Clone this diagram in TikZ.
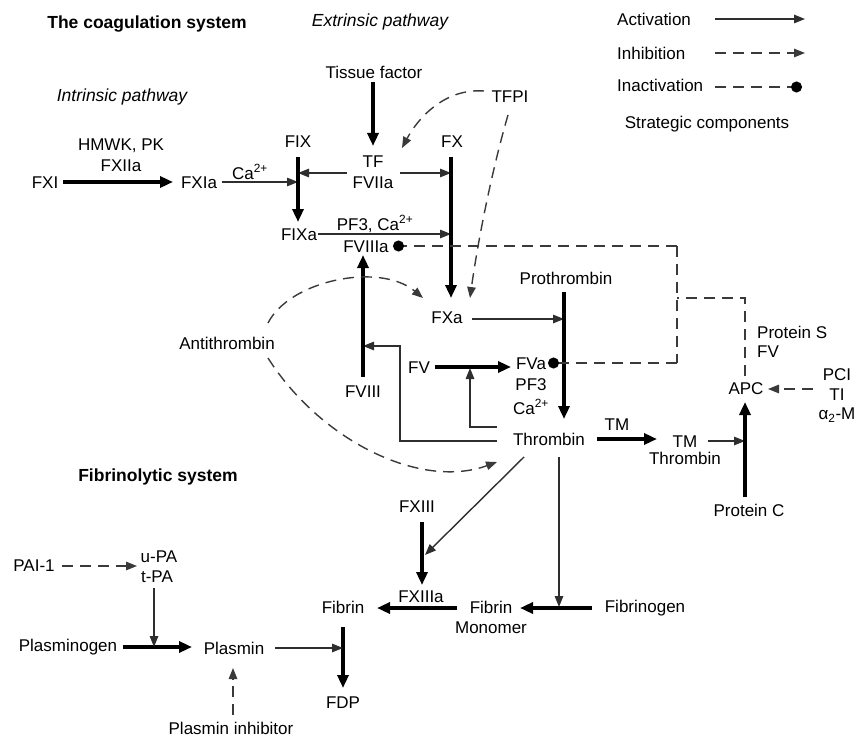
\documentclass[tikz,border=0pt]{standalone}
\usepackage{fontspec}
\setmainfont{Liberation Sans}
\usetikzlibrary{arrows.meta}
\definecolor{ln}{HTML}{2E2E2E}
\definecolor{dl}{HTML}{3A3A3A}
\begin{document}
\begin{tikzpicture}[x=1pt,y=-1pt,
  every node/.style={inner sep=0pt, font=\fontsize{17}{20}\selectfont},
  hd/.style={font=\fontsize{17.5}{20}\selectfont\bfseries},
  it/.style={font=\fontsize{17.5}{20}\selectfont\itshape},
  act/.style={draw=ln, line width=1.4pt, -{Triangle[length=11pt,width=8.5pt]}},
  thk/.style={draw=black, line width=3.6pt, -{Triangle[length=13pt,width=11pt]}},
  dsh/.style={draw=dl, line width=1.4pt, dash pattern=on 11pt off 7pt},
  inh/.style={dsh, -{Triangle[length=11pt,width=8.5pt]}},
  inact/.style={dsh, -{Circle[length=11pt,color=black]}}]
\useasboundingbox (0,0) rectangle (858,738);

% ---------- headings ----------
\node[hd] (title) at (147,24) {The coagulation system};
\node[it] (extr) at (380,22) {Extrinsic pathway};
\node[it] (intr) at (122,97) {Intrinsic pathway};
\node[hd] (fibsys) at (158,477) {Fibrinolytic system};

% ---------- legend ----------
\node[anchor=west] (lact) at (617,19) {Activation};
\node[anchor=west] (linh) at (617,53) {Inhibition};
\node[anchor=west] (linact) at (617,85) {Inactivation};
\node (lstrat) at (707,124) {Strategic components};
\coordinate (la1) at (715,19);  \coordinate (la2) at (805,19);
\coordinate (lb1) at (715,53);  \coordinate (lb2) at (805,53);
\coordinate (lc1) at (715,87);  \coordinate (lc2) at (802,87);
\draw[act] (la1) -- (la2);
\draw[inh] (lb1) -- (lb2);
\draw[inact] (lc1) -- (lc2);

% ---------- text nodes ----------
\node (tissue) at (374,72) {Tissue factor};
\node (tfpi) at (510,97) {TFPI};
\node (hmwk) at (121,146) {HMWK, PK};
\node (fxiia) at (121,166) {FXIIa};
\node (fix) at (298,142) {FIX};
\node (fx) at (452,142) {FX};
\node (tf) at (373,162) {TF};
\node (fviia) at (373,183) {FVIIa};
\node (fxi) at (45,183) {FXI};
\node (fxia) at (199,183) {FXIa};
\node (ca1) at (250,172) {Ca\textsuperscript{2+}};
\node (fixa) at (299,235) {FIXa};
\node (pf3ca) at (375,224) {PF3, Ca\textsuperscript{2+}};
\node (fviiia) at (366,247) {FVIIIa};
\node (fxa) at (447,318) {FXa};
\node (prothr) at (566,278) {Prothrombin};
\node (antithr) at (227,343) {Antithrombin};
\node (fviii) at (363,392) {FVIII};
\node (fv) at (419,368) {FV};
\node (fva) at (531,364) {FVa};
\node (pf3) at (531,385) {PF3};
\node (ca2) at (531,407) {Ca\textsuperscript{2+}};
\node (thrombin) at (549,439) {Thrombin};
\node (tm) at (617,425) {TM};
\node (tm2) at (685,442) {TM};
\node (tmthr) at (685,458) {Thrombin};
\node (apc) at (746,389) {APC};
\node[anchor=west] (prots) at (757,332) {Protein S};
\node[anchor=west] (fvs) at (757,352) {FV};
\node (pci) at (837,375) {PCI};
\node (ti) at (837,395) {TI};
\node (a2m) at (837,415) {α\textsubscript{2}-M};
\node (protc) at (749,510) {Protein C};
\node (fxiii) at (417,507) {FXIII};
\node (fxiiia) at (421,597) {FXIIIa};
\node (fibrinogen) at (645,608) {Fibrinogen};
\node (fibm) at (491,607) {Fibrin};
\node (monomer) at (491,628) {Monomer};
\node (fibrin) at (343,607) {Fibrin};
\node (fdp) at (343,703) {FDP};
\node (plasmin) at (234,648) {Plasmin};
\node (plasminogen) at (68,647) {Plasminogen};
\node (upa) at (159,557) {u-PA};
\node (tpa) at (157,577) {t-PA};
\node (pai) at (34,566) {PAI-1};
\node (plinh) at (231,728) {Plasmin inhibitor};

% ---------- junction coordinates ----------
\coordinate (fxiend) at (63,182);   \coordinate (fxiaend) at (173,182);
\coordinate (fxiaout) at (222,182);
\coordinate (fixtop) at (298,157);  \coordinate (fixbot) at (298,222);
\coordinate (fxtop) at (451,157);   \coordinate (fxbot) at (451,298);
\coordinate (tfl) at (347,173);     \coordinate (tfr) at (400,173);
\coordinate (tisout) at (373,82);   \coordinate (tfin) at (373,146);
\coordinate (fixaout) at (318,234);
\coordinate (prtop) at (564,292);   \coordinate (prbot) at (564,419);
\coordinate (fxaout) at (472,319);
\coordinate (fvout) at (435,367);   \coordinate (fvin) at (511,367);
\coordinate (fvmid) at (470,368);
\coordinate (thr1) at (497,427);    \coordinate (thr2) at (497,441);
\coordinate (kk) at (400,346);      \coordinate (fviiijn) at (363,346);
\coordinate (fviiibot) at (363,377); \coordinate (fviiitop) at (363,255);
\coordinate (tmout) at (597,439);   \coordinate (tmin) at (657,439);
\coordinate (tmthrout) at (708,441); \coordinate (pcjn) at (745,441);
\coordinate (pcbot) at (745,497);   \coordinate (pctop) at (745,402);
\coordinate (pciout) at (813,389);  \coordinate (apcin) at (768,389);
\coordinate (apcup) at (745,376);   \coordinate (jmid) at (677,298);
\coordinate (jtop) at (677,246);    \coordinate (jbot) at (677,363);
\coordinate (fviiiadot) at (393,246); \coordinate (fvadot) at (548,363);
\coordinate (thr3) at (524,457);    \coordinate (fxiiijn) at (425,555);
\coordinate (fxiiiout) at (422,522); \coordinate (fxiiiin) at (422,585);
\coordinate (thr4) at (559,457);    \coordinate (fibjn) at (559,607);
\coordinate (fgout) at (592,608);   \coordinate (fmin) at (520,608);
\coordinate (fmout) at (457,608);   \coordinate (fibin) at (377,608);
\coordinate (fibout) at (343,627);  \coordinate (fdpin) at (343,688);
\coordinate (plout) at (275,648);   \coordinate (fdpjn) at (343,648);
\coordinate (pgout) at (123,647);   \coordinate (plin) at (192,647);
\coordinate (paout) at (154,588);   \coordinate (pgjn) at (154,647);
\coordinate (paiout) at (62,566);   \coordinate (upain) at (137,566);
\coordinate (plinhout) at (233,715); \coordinate (plinhin) at (233,668);
\coordinate (tfpic1) at (484,91);   \coordinate (tfpic1e) at (402,148);
\coordinate (tfpic2) at (508,115);  \coordinate (tfpic2e) at (470,298);
\coordinate (at1) at (268,323);     \coordinate (at1e) at (423,298);
\coordinate (at2) at (268,358);     \coordinate (at2e) at (497,462);

% ---------- coagulation ----------
\draw[thk] (fxiend) -- (fxiaend);
\draw[act] (fxiaout) -- (fixtop |- fxiaout);
\draw[act] (tfl) -- (fixtop |- tfl);
\draw[act] (tfr) -- (fxtop |- tfr);
\draw[thk] (tisout) -- (tfin);
\draw[thk] (fixtop) -- (fixbot);
\draw[act] (fixaout) -- (fxtop |- fixaout);
\draw[thk] (fxtop) -- (fxbot);
\draw[act] (fxaout) -- (prtop |- fxaout);
\draw[thk] (prtop) -- (prbot);
\draw[thk] (fvout) -- (fvin);
\draw[act] (thr1) -| (fvmid);
\draw[act] (thr2) -| (kk) -- (fviiijn);
\draw[thk] (fviiibot) -- (fviiitop);
\draw[thk] (tmout) -- (tmin);
\draw[act] (tmthrout) -- (pcjn);
\draw[thk] (pcbot) -- (pctop);
\draw[inh] (pciout) -- (apcin);

% inactivation by APC
\draw[dsh] (apcup) |- (jmid);
\draw[dsh] (jtop) -- (jbot);
\draw[inact] (jtop) -- (fviiiadot);
\draw[inact] (jbot) -- (fvadot);

% TFPI
\draw[inh] (tfpic1) .. controls (445,88) and (418,118) .. (tfpic1e);
\draw[inh] (tfpic2) .. controls (492,170) and (478,240) .. (tfpic2e);
% antithrombin
\draw[inh] (at1) .. controls (290,280) and (380,262) .. (at1e);
\draw[inh] (at2) .. controls (320,440) and (420,490) .. (at2e);

% fibrin formation
\draw[act] (thr3) -- (fxiiijn);
\draw[thk] (fxiiiout) -- (fxiiiin);
\draw[act] (thr4) -- (fibjn);
\draw[thk] (fgout) -- (fmin);
\draw[thk] (fmout) -- (fibin);

% fibrinolysis
\draw[thk] (fibout) -- (fdpin);
\draw[act] (plout) -- (fdpjn);
\draw[thk] (pgout) -- (plin);
\draw[act] (paout) -- (pgjn);
\draw[inh] (paiout) -- (upain);
\draw[inh] (plinhout) -- (plinhin);
\end{tikzpicture}
\end{document}
